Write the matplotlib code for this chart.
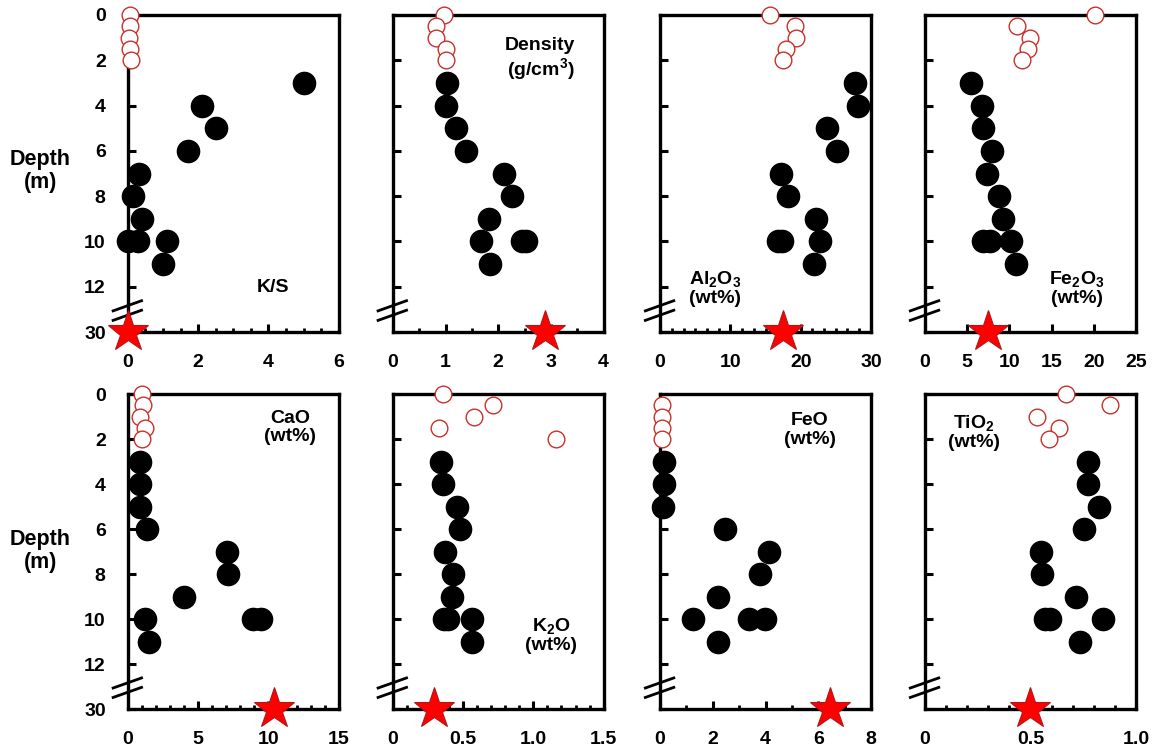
import numpy as np
import matplotlib.pyplot as plt
from matplotlib.ticker import MultipleLocator, FixedLocator

plt.rcParams['font.family'] = ['Liberation Sans', 'DejaVu Sans']
plt.rcParams['font.weight'] = 'bold'
plt.rcParams['mathtext.fontset'] = 'custom'
plt.rcParams['mathtext.rm'] = 'Liberation Sans:bold'
plt.rcParams['mathtext.bf'] = 'Liberation Sans:bold'
plt.rcParams['mathtext.it'] = 'Liberation Sans:bold'

# depths of the shallow (open) and deeper (filled) samples
open_depth = [0, 0.5, 1.0, 1.5, 2.0]
fill_depth = [3, 4, 5, 6, 7, 8, 9, 10, 10, 10, 11]
star_depth = 30

# K/S
ks_open = [0.07, 0.07, 0.03, 0.05, 0.08]
ks_fill = [5.0, 2.1, 2.5, 1.71, 0.31, 0.16, 0.41, 0.0, 0.30, 1.11, 1.0]
ks_star = 0.0

# Density
den_open = [0.97, 0.82, 0.82, 1.01, 1.0]
den_fill = [1.03, 1.01, 1.19, 1.38, 2.11, 2.27, 1.82, 1.67, 2.45, 2.53, 1.85]
den_star = 2.89

# Al2O3
al_open = [15.7, 19.2, 19.4, 17.9, 17.5]
al_fill = [27.8, 28.2, 23.8, 25.2, 17.2, 18.2, 22.2, 16.8, 17.4, 22.7, 21.9]
al_star = 17.5

# Fe2O3
fe3_open = [20.2, 10.9, 12.4, 12.2, 11.5]
fe3_fill = [5.5, 6.7, 6.9, 7.9, 7.3, 8.8, 9.2, 6.9, 7.7, 10.2, 10.8]
fe3_star = 7.5

# CaO
ca_open = [1.0, 1.1, 0.83, 1.19, 1.0]
ca_fill = [0.83, 0.83, 0.83, 1.38, 7.08, 7.1, 4.0, 1.24, 8.9, 9.5, 1.5]
ca_star = 10.4

# K2O
k_open = [0.36, 0.71, 0.58, 0.33, 1.16]
k_fill = [0.34, 0.36, 0.46, 0.48, 0.37, 0.43, 0.42, 0.365, 0.395, 0.56, 0.565]
k_star = 0.29

# FeO
feo_open_depth = [0.5, 1.0, 1.5, 2.0]
feo_open = [0.09, 0.09, 0.09, 0.09]
feo_fill = [0.16, 0.16, 0.1, 2.47, 4.15, 3.79, 2.21, 1.26, 3.39, 3.98, 2.19]
feo_star = 6.45

# TiO2
ti_open = [0.667, 0.878, 0.533, 0.635, 0.587]
ti_fill = [0.771, 0.775, 0.827, 0.756, 0.548, 0.557, 0.716, 0.568, 0.592, 0.846, 0.735]
ti_star = 0.50

panels = [
    # label, open x, open depth, fill x, xmax, major, minor, star, label pos, ticklabels
    ('K/S', ks_open, open_depth, ks_fill, 6, 2, 0.5, ks_star, (0.69, 0.14), None),
    ('Density\n(g/cm$^{3}$)', den_open, open_depth, den_fill, 4, 1, 0.5, den_star, (0.70, 0.86), None),
    ('Al$_{2}$O$_{3}$\n(wt%)', al_open, open_depth, al_fill, 30, 10, 10 / 6, al_star, (0.26, 0.14), None),
    ('Fe$_{2}$O$_{3}$\n(wt%)', fe3_open, open_depth, fe3_fill, 25, 5, None, fe3_star, (0.72, 0.14), None),
    ('CaO\n(wt%)', ca_open, open_depth, ca_fill, 15, 5, 1, ca_star, (0.77, 0.895), None),
    ('K$_{2}$O\n(wt%)', k_open, open_depth, k_fill, 1.5, 0.5, 0.1, k_star, (0.75, 0.235), ['0', '0.5', '1.0', '1.5']),
    ('FeO\n(wt%)', feo_open, feo_open_depth, feo_fill, 8, 2, 1, feo_star, (0.71, 0.886), None),
    ('TiO$_{2}$\n(wt%)', ti_open, open_depth, ti_fill, 1.0, 0.5, 0.1, ti_star, (0.23, 0.88), ['0', '0.5', '1.0']),
]


# broken depth axis: 0-13 m linear, below that squeezed so 30 m sits just under 12 m
def fwd(y):
    y = np.asarray(y, dtype=float)
    return np.where(y <= 13, y, 13 + (y - 13) / 17.0)


def inv(y):
    y = np.asarray(y, dtype=float)
    return np.where(y <= 13, y, 13 + (y - 13) * 17.0)


fig = plt.figure(figsize=(11.52, 7.48), dpi=100)

lefts = [0.111, 0.341, 0.573, 0.803]
width = 0.183
rows = [(0.556, 0.424), (0.052, 0.421)]

for i, (label, ox, od, fx, xmax, major, minor, star, lpos, tl) in enumerate(panels):
    r, c = divmod(i, 4)
    ax = fig.add_axes([lefts[c], rows[r][0], width, rows[r][1]])
    ax.set_yscale('function', functions=(fwd, inv))
    ax.set_ylim(30, 0)
    ax.set_xlim(0, xmax)

    ax.plot(fx, fill_depth, 'o', color='black', ms=16, clip_on=False, zorder=3)
    ax.plot(ox, od, 'o', mfc='white', mec='#c8312a', mew=1.0, ms=12,
            clip_on=False, zorder=4)
    ax.plot([star], [star_depth], '*', color='#ff0000', mec='#b01818', mew=0.8,
            ms=31, clip_on=False, zorder=6)

    ax.text(lpos[0], lpos[1], label, transform=ax.transAxes, ha='center',
            va='center', fontsize=14, fontweight='bold', linespacing=1.1)

    # axis break marks on the left spine
    for yb in (0.083, 0.053):
        ax.plot([-0.07, 0.065], [yb - 0.016, yb + 0.016], color='black', lw=2.0,
                transform=ax.transAxes, clip_on=False, zorder=5)

    ax.yaxis.set_major_locator(FixedLocator([0, 2, 4, 6, 8, 10, 12, 30]))
    ax.yaxis.set_minor_locator(FixedLocator([]))
    ax.xaxis.set_major_locator(MultipleLocator(major))
    if minor:
        ax.xaxis.set_minor_locator(MultipleLocator(minor))
    if tl:
        ax.set_xticks([float(t) for t in tl])
        ax.set_xticklabels(tl)

    ax.tick_params(axis='both', which='major', direction='in', length=6, width=2.2,
                   labelsize=14, pad=16)
    ax.tick_params(axis='both', which='minor', direction='in', length=3, width=2.0)
    ax.tick_params(axis='y', pad=16)
    if c != 0:
        ax.set_yticklabels([])
    else:
        ax.set_yticklabels(['0', '2', '4', '6', '8', '10', '12', '30'])
    for lab in ax.get_xticklabels() + ax.get_yticklabels():
        lab.set_fontweight('bold')
    for s in ax.spines.values():
        s.set_linewidth(2.4)

fig.text(0.035, 0.771, 'Depth\n(m)', ha='center', va='center', fontsize=15.5,
         fontweight='bold', linespacing=1.15)
fig.text(0.035, 0.263, 'Depth\n(m)', ha='center', va='center', fontsize=15.5,
         fontweight='bold', linespacing=1.15)

fig.savefig('out.png', dpi=100)
